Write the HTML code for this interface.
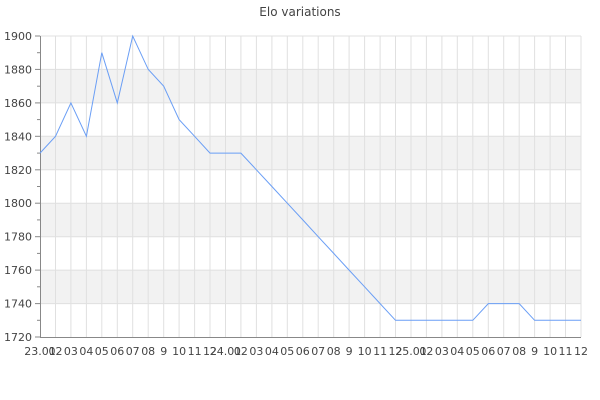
<!DOCTYPE html>
<html><head><meta charset="utf-8"><style>
body{margin:0;background:#fff}
svg{display:block;font-family:"DejaVu Sans","Liberation Sans",sans-serif}
</style></head><body>
<svg width="600" height="400" viewBox="0 0 600 400">
<text x="300" y="16" text-anchor="middle" font-size="12" fill="#444">Elo variations</text>
<g fill="#f2f2f2">
<rect x="40" y="69.4" width="541" height="33.5"/>
<rect x="40" y="136.3" width="541" height="33.5"/>
<rect x="40" y="203.2" width="541" height="33.5"/>
<rect x="40" y="270.1" width="541" height="33.5"/>
</g>
<g stroke="#e0e0e0" stroke-width="1">
<line x1="40" x2="581" y1="36" y2="36"/><line x1="40" x2="581" y1="69.4" y2="69.4"/><line x1="40" x2="581" y1="102.9" y2="102.9"/><line x1="40" x2="581" y1="136.3" y2="136.3"/><line x1="40" x2="581" y1="169.8" y2="169.8"/><line x1="40" x2="581" y1="203.2" y2="203.2"/><line x1="40" x2="581" y1="236.7" y2="236.7"/><line x1="40" x2="581" y1="270.1" y2="270.1"/><line x1="40" x2="581" y1="303.6" y2="303.6"/>
<line x1="55.5" x2="55.5" y1="36" y2="337"/><line x1="70.9" x2="70.9" y1="36" y2="337"/><line x1="86.4" x2="86.4" y1="36" y2="337"/><line x1="101.8" x2="101.8" y1="36" y2="337"/><line x1="117.3" x2="117.3" y1="36" y2="337"/><line x1="132.7" x2="132.7" y1="36" y2="337"/><line x1="148.2" x2="148.2" y1="36" y2="337"/><line x1="163.7" x2="163.7" y1="36" y2="337"/><line x1="179.1" x2="179.1" y1="36" y2="337"/><line x1="194.6" x2="194.6" y1="36" y2="337"/><line x1="210" x2="210" y1="36" y2="337"/><line x1="225.5" x2="225.5" y1="36" y2="337"/><line x1="240.9" x2="240.9" y1="36" y2="337"/><line x1="256.4" x2="256.4" y1="36" y2="337"/><line x1="271.9" x2="271.9" y1="36" y2="337"/><line x1="287.3" x2="287.3" y1="36" y2="337"/><line x1="302.8" x2="302.8" y1="36" y2="337"/><line x1="318.2" x2="318.2" y1="36" y2="337"/><line x1="333.7" x2="333.7" y1="36" y2="337"/><line x1="349.1" x2="349.1" y1="36" y2="337"/><line x1="364.6" x2="364.6" y1="36" y2="337"/><line x1="380.1" x2="380.1" y1="36" y2="337"/><line x1="395.5" x2="395.5" y1="36" y2="337"/><line x1="411" x2="411" y1="36" y2="337"/><line x1="426.4" x2="426.4" y1="36" y2="337"/><line x1="441.9" x2="441.9" y1="36" y2="337"/><line x1="457.3" x2="457.3" y1="36" y2="337"/><line x1="472.8" x2="472.8" y1="36" y2="337"/><line x1="488.3" x2="488.3" y1="36" y2="337"/><line x1="503.7" x2="503.7" y1="36" y2="337"/><line x1="519.2" x2="519.2" y1="36" y2="337"/><line x1="534.6" x2="534.6" y1="36" y2="337"/><line x1="550.1" x2="550.1" y1="36" y2="337"/><line x1="565.5" x2="565.5" y1="36" y2="337"/><line x1="581" x2="581" y1="36" y2="337"/>
</g>
<g stroke="#888" stroke-width="1">
<line x1="40.5" x2="40.5" y1="36" y2="337"/>
<line x1="40" x2="581" y1="337.5" y2="337.5"/>
<line x1="35" x2="40" y1="36" y2="36"/><line x1="35" x2="40" y1="69.4" y2="69.4"/><line x1="35" x2="40" y1="102.9" y2="102.9"/><line x1="35" x2="40" y1="136.3" y2="136.3"/><line x1="35" x2="40" y1="169.8" y2="169.8"/><line x1="35" x2="40" y1="203.2" y2="203.2"/><line x1="35" x2="40" y1="236.7" y2="236.7"/><line x1="35" x2="40" y1="270.1" y2="270.1"/><line x1="35" x2="40" y1="303.6" y2="303.6"/><line x1="35" x2="40" y1="337" y2="337"/>
<line x1="37" x2="40" y1="52.7" y2="52.7"/><line x1="37" x2="40" y1="86.2" y2="86.2"/><line x1="37" x2="40" y1="119.6" y2="119.6"/><line x1="37" x2="40" y1="153.1" y2="153.1"/><line x1="37" x2="40" y1="186.5" y2="186.5"/><line x1="37" x2="40" y1="219.9" y2="219.9"/><line x1="37" x2="40" y1="253.4" y2="253.4"/><line x1="37" x2="40" y1="286.8" y2="286.8"/><line x1="37" x2="40" y1="320.3" y2="320.3"/>
</g>
<g font-size="11" fill="#444" text-anchor="end">
<text x="32" y="40">1900</text><text x="32" y="73.4">1880</text><text x="32" y="106.9">1860</text><text x="32" y="140.3">1840</text><text x="32" y="173.8">1820</text><text x="32" y="207.2">1800</text><text x="32" y="240.7">1780</text><text x="32" y="274.1">1760</text><text x="32" y="307.6">1740</text><text x="32" y="341">1720</text>
</g>
<g font-size="11" fill="#444" text-anchor="middle">
<text x="40" y="355">23.01</text><text x="55.5" y="355">02</text><text x="70.9" y="355">03</text><text x="86.4" y="355">04</text><text x="101.8" y="355">05</text><text x="117.3" y="355">06</text><text x="132.7" y="355">07</text><text x="148.2" y="355">08</text><text x="163.7" y="355">9</text><text x="179.1" y="355">10</text><text x="194.6" y="355">11</text><text x="210" y="355">12</text>
<text x="225.5" y="355">24.01</text><text x="240.9" y="355">02</text><text x="256.4" y="355">03</text><text x="271.9" y="355">04</text><text x="287.3" y="355">05</text><text x="302.8" y="355">06</text><text x="318.2" y="355">07</text><text x="333.7" y="355">08</text><text x="349.1" y="355">9</text><text x="364.6" y="355">10</text><text x="380.1" y="355">11</text><text x="395.5" y="355">12</text>
<text x="411" y="355">25.01</text><text x="426.4" y="355">02</text><text x="441.9" y="355">03</text><text x="457.3" y="355">04</text><text x="472.8" y="355">05</text><text x="488.3" y="355">06</text><text x="503.7" y="355">07</text><text x="519.2" y="355">08</text><text x="534.6" y="355">9</text><text x="550.1" y="355">10</text><text x="565.5" y="355">11</text><text x="581" y="355">12</text>
</g>
<polyline fill="none" stroke="#6a9ef5" stroke-width="1" points="40,153.1 55.5,136.3 70.9,102.9 86.4,136.3 101.8,52.7 117.3,102.9 132.7,36 148.2,69.4 163.7,86.2 179.1,119.6 194.6,136.3 210,153.1 225.5,153.1 240.9,153.1 256.4,169.8 271.9,186.5 287.3,203.2 302.8,219.9 318.2,236.7 333.7,253.4 349.1,270.1 364.6,286.8 380.1,303.6 395.5,320.3 411,320.3 426.4,320.3 441.9,320.3 457.3,320.3 472.8,320.3 488.3,303.6 503.7,303.6 519.2,303.6 534.6,320.3 550.1,320.3 565.5,320.3 581,320.3"/>
</svg>
</body></html>
